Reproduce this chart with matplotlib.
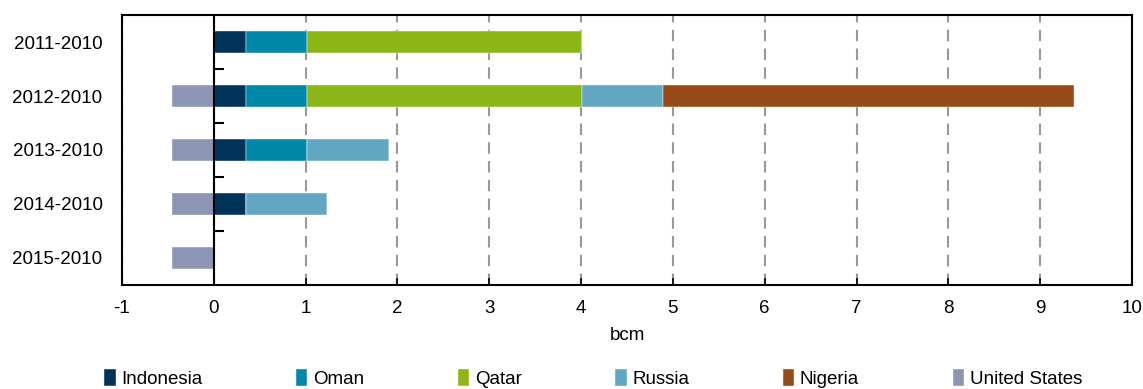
import matplotlib.pyplot as plt
import numpy as np
from matplotlib import markers

plt.rcParams['font.family'] = ['Liberation Sans', 'DejaVu Sans']
plt.rcParams['axes.unicode_minus'] = False

periods = ['2011-2010', '2012-2010', '2013-2010', '2014-2010', '2015-2010']
countries = ['Indonesia', 'Oman', 'Qatar', 'Russia', 'Nigeria', 'United States']
indonesia = [0.35, 0.35, 0.35, 0.35, 0]
oman = [0.66, 0.66, 0.66, 0, 0]
qatar = [3.0, 3.0, 0, 0, 0]
russia = [0, 0.88, 0.90, 0.88, 0]
nigeria = [0, 4.48, 0, 0, 0]
united_states = [0, -0.46, -0.46, -0.46, -0.46]
colors = ['#00335A', '#0088AB', '#8CB516', '#62A7C1', '#954A17', '#8C96B4']

fig = plt.figure(figsize=(11.43, 3.89), dpi=100)
ax = fig.add_axes([0.1067, 0.2674, 0.8837, 0.694])

y = np.arange(len(periods))
left = np.zeros(len(periods))
series = [indonesia, oman, qatar, russia, nigeria]
for vals, name, c in zip(series, countries[:5], colors[:5]):
    vals = np.array(vals)
    ax.barh(y, vals, left=left, height=0.4, color=c, label=name,
            edgecolor='white', linewidth=0.3, zorder=3)
    left = left + vals
ax.barh(y, united_states, height=0.4, color=colors[5], label=countries[5],
        edgecolor='white', linewidth=0.3, zorder=3)

ax.set_xlim(-1, 10)
ax.set_ylim(len(periods) - 0.5, -0.5)
ax.set_xticks(range(-1, 11))
ax.set_yticks(y)
ax.set_yticklabels(periods)
ax.tick_params(axis='y', length=0, pad=14, labelsize=13.5)
ax.tick_params(axis='x', direction='in', length=5, width=1.2, pad=11, labelsize=13.5)
ax.xaxis.grid(True, color='#999999', linestyle=(0, (5.5, 3.5)), linewidth=1.5, zorder=1)

ax.axvline(0, color='black', linewidth=1.5, zorder=4)
ax.plot([0] * 4, [0.5, 1.5, 2.5, 3.5], linestyle='none', marker=markers.TICKRIGHT,
        markersize=7, markeredgewidth=1.5, color='black', zorder=4)

for s in ax.spines.values():
    s.set_linewidth(1.5)

ax.set_xlabel('bcm', fontsize=13.5, labelpad=7)

fig.legend(loc='center', bbox_to_anchor=(0.519, 0.027), ncol=6, frameon=False,
           fontsize=13.5, handlelength=0.6, handleheight=1.0, handletextpad=0.3,
           columnspacing=5.0, borderaxespad=0)

fig.savefig('out.png', dpi=100)
